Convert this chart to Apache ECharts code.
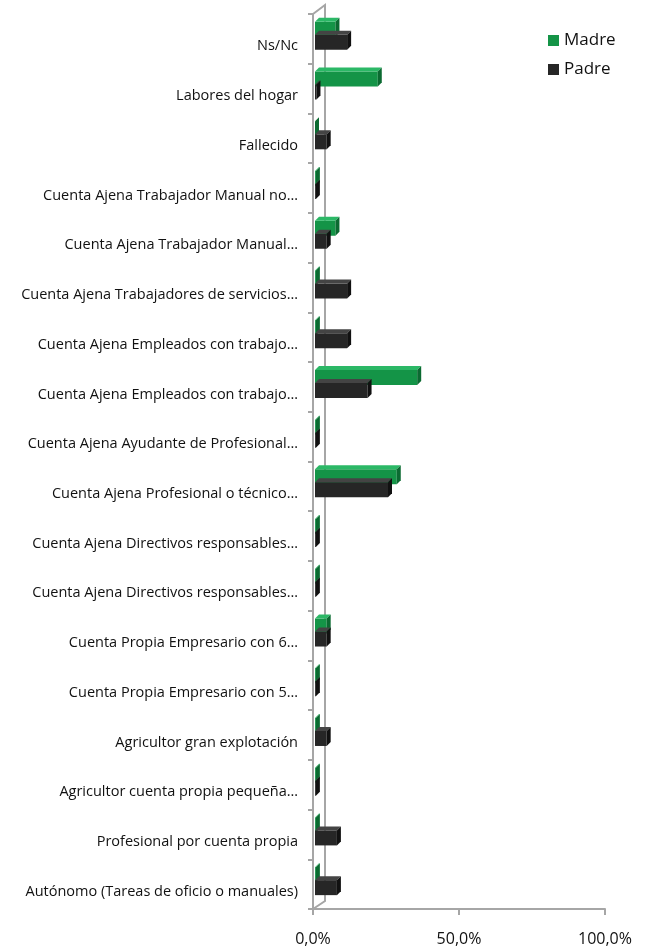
<!DOCTYPE html>
<html>
<head>
<meta charset="utf-8">
<script src="https://cdn.jsdelivr.net/npm/echarts@6/dist/echarts.min.js"></script>
<style>
  html, body { margin: 0; padding: 0; background: #fff; }
  #chart { width: 646px; height: 948px; }
</style>
</head>
<body>
<div id="chart"></div>
<script>
  // categorias (de arriba a abajo)
  var categorias = [
    'Ns/Nc',
    'Labores del hogar',
    'Fallecido',
    'Cuenta Ajena Trabajador Manual no…',
    'Cuenta Ajena Trabajador Manual…',
    'Cuenta Ajena Trabajadores de servicios…',
    'Cuenta Ajena Empleados con trabajo…',
    'Cuenta Ajena Empleados con trabajo…',
    'Cuenta Ajena Ayudante de Profesional…',
    'Cuenta Ajena Profesional o técnico…',
    'Cuenta Ajena Directivos responsables…',
    'Cuenta Ajena Directivos responsables…',
    'Cuenta Propia Empresario con 6…',
    'Cuenta Propia Empresario con 5…',
    'Agricultor gran explotación',
    'Agricultor cuenta propia pequeña…',
    'Profesional por cuenta propia',
    'Autónomo (Tareas de oficio o manuales)'
  ];
  var madre = [7, 21.5, 0, 0.3, 7, 0.3, 0.3, 35, 0.3, 28, 0.3, 0.3, 4, 0.3, 0.3, 0.3, 0.3, 0.3];
  var padre = [11, 0.5, 4, 0.3, 4, 11, 11, 18, 0.3, 25, 0.3, 0.3, 4, 0.3, 4, 0.3, 7.5, 7.5];

  var D = 4; // profundidad 3D

  function bar3d(colors, offTop, offBot) {
    return function (params, api) {
      var v = api.value(0);
      var c = api.value(1);
      var p0 = api.coord([0, c]);
      var p1 = api.coord([v, c]);
      var x0 = p0[0] + 2, x1 = p1[0] + 2;
      var top = p0[1] + offTop, bot = p0[1] + offBot;
      return {
        type: 'group',
        children: [
          { type: 'polygon', shape: { points: [[x0, top], [x1, top], [x1, bot], [x0, bot]] },
            style: { fill: colors[0] } },
          { type: 'polygon', shape: { points: [[x0, top], [x1, top], [x1 + D, top - D], [x0 + D, top - D]] },
            style: { fill: colors[1] } },
          { type: 'polygon', shape: { points: [[x1, top], [x1 + D, top - D], [x1 + D, bot - D], [x1, bot]] },
            style: { fill: colors[2] } }
        ]
      };
    };
  }

  var chart = echarts.init(document.getElementById('chart'));
  var option = {
    animation: false,
    textStyle: { fontFamily: 'Open Sans' },
    legend: {
      orient: 'vertical',
      left: 543,
      top: 27,
      itemWidth: 11,
      itemHeight: 11,
      itemGap: 12,
      icon: 'rect',
      textStyle: { fontSize: 17, color: '#111', fontFamily: 'Open Sans' },
      data: [
        { name: 'Madre', itemStyle: { color: '#149447' } },
        { name: 'Padre', itemStyle: { color: '#262626' } }
      ]
    },
    grid: { left: 313, right: 41, top: 14, bottom: 39 },
    xAxis: {
      type: 'value',
      min: 0,
      max: 100,
      interval: 50,
      axisLine: { show: true, lineStyle: { color: '#a6a6a6', width: 2 } },
      axisTick: { show: true, length: 6, lineStyle: { color: '#a6a6a6', width: 2 } },
      splitLine: { show: false },
      axisLabel: {
        margin: 22,
        fontSize: 16,
        color: '#111',
        formatter: function (v) { return v.toFixed(1).replace('.', ',') + '%'; }
      }
    },
    yAxis: {
      type: 'category',
      inverse: true,
      data: categorias,
      axisLine: { lineStyle: { color: '#a6a6a6', width: 2 } },
      axisTick: { show: true, length: 5, lineStyle: { color: '#a6a6a6', width: 2 } },
      axisLabel: { margin: 15, fontSize: 14.5, color: '#111', interval: 0, verticalAlign: 'top' }
    },
    series: [
      {
        name: 'Madre',
        type: 'custom',
        renderItem: bar3d(['#149447', '#2bb866', '#0b6a31'], -17, -2),
        encode: { x: 0, y: 1 },
        data: madre.map(function (v, i) { return [v, i]; })
      },
      {
        name: 'Padre',
        type: 'custom',
        renderItem: bar3d(['#262626', '#444444', '#111111'], -4, 11),
        encode: { x: 0, y: 1 },
        data: padre.map(function (v, i) { return [v, i]; })
      }
    ]
  };
  chart.setOption(option);

  // pared trasera del eje (efecto 3D)
  var g = chart.getModel().getComponent('grid').coordinateSystem.getRect();
  var bx = g.x + 12;
  chart.setOption({
    graphic: [
      { type: 'polyline', silent: true,
        shape: { points: [[g.x, g.y], [bx, g.y - 9], [bx, g.y + g.height - 8], [g.x, g.y + g.height]] },
        style: { stroke: '#a6a6a6', lineWidth: 2, fill: null } }
    ]
  });

  window.addEventListener('resize', function () { chart.resize(); });
</script>
</body>
</html>
